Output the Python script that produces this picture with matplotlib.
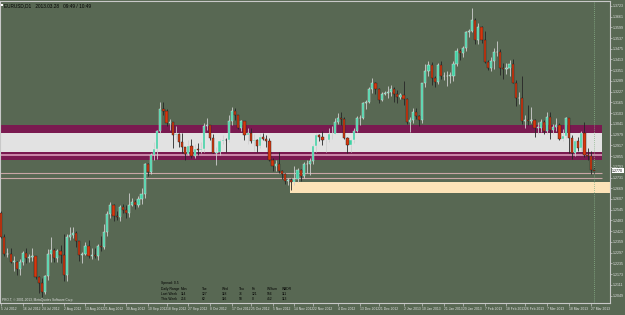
import matplotlib.pyplot as plt
import numpy as np
import pandas as pd

plt.rcParams['font.family'] = ['Liberation Sans', 'DejaVu Sans']

# daily bars EURUSD D1, 5 Jul 2012 .. 28 Mar 2013
dates = pd.bdate_range('2012-07-05', '2013-03-28')

opens = [1.2525, 1.2390, 1.2290, 1.2290, 1.2245, 1.2245, 1.2205, 1.2245, 1.2295, 1.2265,
         1.2270, 1.2280, 1.2155, 1.2120, 1.2070, 1.2160, 1.2290, 1.2315, 1.2265, 1.2305,
         1.2285, 1.2165, 1.2390, 1.2400, 1.2410, 1.2365, 1.2285, 1.2290, 1.2335, 1.2275,
         1.2285, 1.2275, 1.2335, 1.2330, 1.2415, 1.2520, 1.2570, 1.2510, 1.2505, 1.2560,
         1.2545, 1.2525, 1.2575, 1.2590, 1.2575, 1.2605, 1.2635, 1.2810, 1.2765, 1.2860,
         1.2895, 1.3000, 1.3125, 1.3115, 1.3045, 1.3050, 1.2975, 1.2980, 1.2935, 1.2905,
         1.2865, 1.2915, 1.2855, 1.2895, 1.2890, 1.2895, 1.3030, 1.3035, 1.2960, 1.2875,
         1.2880, 1.2940, 1.2950, 1.2945, 1.3055, 1.3115, 1.3090, 1.3020, 1.3055, 1.2975,
         1.2990, 1.2940, 1.2945, 1.2915, 1.2965, 1.2955, 1.2940, 1.2835, 1.2795, 1.2810,
         1.2770, 1.2750, 1.2710, 1.2715, 1.2705, 1.2725, 1.2775, 1.2740, 1.2810, 1.2810,
         1.2825, 1.2915, 1.2975, 1.2965, 1.2945, 1.2945, 1.2980, 1.2985, 1.3050, 1.3075,
         1.3070, 1.2960, 1.2920, 1.2945, 1.3000, 1.3075, 1.3075, 1.3160, 1.3165, 1.3240,
         1.3275, 1.3245, 1.3180, 1.3215, 1.3220, 1.3225, 1.3240, 1.3215, 1.3195, 1.3205,
         1.3185, 1.3050, 1.3065, 1.3110, 1.3085, 1.3065, 1.3275, 1.3345, 1.3380, 1.3305,
         1.3285, 1.3380, 1.3315, 1.3315, 1.3320, 1.3320, 1.3385, 1.3460, 1.3450, 1.3480,
         1.3570, 1.3580, 1.3640, 1.3525, 1.3600, 1.3525, 1.3400, 1.3365, 1.3405, 1.3455,
         1.3455, 1.3365, 1.3360, 1.3365, 1.3385, 1.3280, 1.3190, 1.3190, 1.3055, 1.3065,
         1.3055, 1.3065, 1.3020, 1.3020, 1.3050, 1.3000, 1.3080, 1.3005, 1.3025, 1.3035,
         1.2955, 1.2970, 1.3075, 1.2960, 1.2870, 1.2940, 1.2900, 1.2990, 1.2860, 1.2855,
         1.2775]
highs = [1.2536, 1.2405, 1.2325, 1.2325, 1.2275, 1.2250, 1.2260, 1.2305, 1.2325, 1.2290,
         1.2325, 1.2280, 1.2160, 1.2150, 1.2170, 1.2320, 1.2390, 1.2325, 1.2320, 1.2340,
         1.2405, 1.2405, 1.2445, 1.2443, 1.2420, 1.2365, 1.2300, 1.2360, 1.2370, 1.2325,
         1.2325, 1.2345, 1.2395, 1.2460, 1.2535, 1.2590, 1.2580, 1.2535, 1.2575, 1.2580,
         1.2570, 1.2640, 1.2610, 1.2600, 1.2625, 1.2670, 1.2815, 1.2815, 1.2875, 1.2935,
         1.3005, 1.3169, 1.3170, 1.3125, 1.3070, 1.3050, 1.3030, 1.2990, 1.2990, 1.2910,
         1.2945, 1.2955, 1.2925, 1.2930, 1.2935, 1.3045, 1.3075, 1.3035, 1.2985, 1.2910,
         1.2955, 1.2975, 1.2960, 1.3090, 1.3140, 1.3135, 1.3095, 1.3065, 1.3060, 1.3015,
         1.3015, 1.2985, 1.2955, 1.2990, 1.2990, 1.2975, 1.2960, 1.2845, 1.2830, 1.2880,
         1.2775, 1.2760, 1.2730, 1.2730, 1.2800, 1.2785, 1.2780, 1.2820, 1.2835, 1.2845,
         1.2925, 1.2990, 1.2985, 1.3000, 1.2955, 1.3015, 1.3030, 1.3075, 1.3105, 1.3110,
         1.3080, 1.2965, 1.2955, 1.3015, 1.3085, 1.3095, 1.3165, 1.3180, 1.3255, 1.3308,
         1.3285, 1.3250, 1.3225, 1.3230, 1.3260, 1.3265, 1.3255, 1.3235, 1.3220, 1.3290,
         1.3190, 1.3080, 1.3130, 1.3135, 1.3095, 1.3280, 1.3385, 1.3405, 1.3400, 1.3320,
         1.3390, 1.3405, 1.3340, 1.3345, 1.3340, 1.3405, 1.3480, 1.3475, 1.3490, 1.3580,
         1.3590, 1.3711, 1.3650, 1.3625, 1.3605, 1.3575, 1.3410, 1.3425, 1.3480, 1.3520,
         1.3475, 1.3395, 1.3390, 1.3410, 1.3415, 1.3295, 1.3225, 1.3320, 1.3090, 1.3150,
         1.3140, 1.3070, 1.3050, 1.3070, 1.3065, 1.3110, 1.3110, 1.3040, 1.3075, 1.3045,
         1.3010, 1.3080, 1.3075, 1.2975, 1.2955, 1.2965, 1.3000, 1.3050, 1.2900, 1.2885,
         1.2795]
lows = [1.2380, 1.2280, 1.2270, 1.2235, 1.2190, 1.2165, 1.2165, 1.2225, 1.2235, 1.2245,
        1.2250, 1.2145, 1.2065, 1.2042, 1.2060, 1.2140, 1.2245, 1.2245, 1.2245, 1.2235,
        1.2135, 1.2135, 1.2370, 1.2380, 1.2330, 1.2250, 1.2240, 1.2285, 1.2265, 1.2260,
        1.2265, 1.2255, 1.2305, 1.2320, 1.2395, 1.2495, 1.2480, 1.2485, 1.2480, 1.2525,
        1.2500, 1.2505, 1.2565, 1.2550, 1.2560, 1.2580, 1.2615, 1.2740, 1.2750, 1.2830,
        1.2840, 1.2990, 1.3090, 1.3030, 1.3005, 1.2900, 1.2955, 1.2905, 1.2875, 1.2835,
        1.2860, 1.2845, 1.2845, 1.2860, 1.2870, 1.2880, 1.3005, 1.2950, 1.2875, 1.2805,
        1.2860, 1.2925, 1.2880, 1.2935, 1.3035, 1.3065, 1.3010, 1.3000, 1.2950, 1.2925,
        1.2930, 1.2885, 1.2880, 1.2900, 1.2945, 1.2910, 1.2825, 1.2770, 1.2770, 1.2755,
        1.2725, 1.2695, 1.2685, 1.2661, 1.2690, 1.2705, 1.2710, 1.2730, 1.2760, 1.2745,
        1.2810, 1.2880, 1.2940, 1.2920, 1.2880, 1.2935, 1.2955, 1.2980, 1.3040, 1.3035,
        1.2955, 1.2875, 1.2880, 1.2930, 1.2995, 1.3035, 1.3070, 1.3125, 1.3160, 1.3220,
        1.3215, 1.3160, 1.3175, 1.3210, 1.3190, 1.3200, 1.3170, 1.3160, 1.3185, 1.3150,
        1.3040, 1.2995, 1.3045, 1.3070, 1.3030, 1.3045, 1.3255, 1.3320, 1.3265, 1.3255,
        1.3270, 1.3300, 1.3295, 1.3260, 1.3275, 1.3290, 1.3375, 1.3410, 1.3430, 1.3460,
        1.3545, 1.3570, 1.3500, 1.3505, 1.3510, 1.3390, 1.3350, 1.3345, 1.3360, 1.3435,
        1.3325, 1.3300, 1.3330, 1.3315, 1.3275, 1.3145, 1.3155, 1.3040, 1.3020, 1.3035,
        1.3045, 1.2965, 1.2985, 1.2995, 1.2980, 1.2985, 1.2955, 1.2980, 1.3000, 1.2945,
        1.2940, 1.2960, 1.2875, 1.2840, 1.2855, 1.2885, 1.2885, 1.2850, 1.2835, 1.2750,
        1.2750]
closes = [1.2390, 1.2290, 1.2290, 1.2245, 1.2245, 1.2205, 1.2245, 1.2295, 1.2265, 1.2270,
          1.2280, 1.2155, 1.2120, 1.2070, 1.2160, 1.2290, 1.2315, 1.2265, 1.2305, 1.2285,
          1.2165, 1.2390, 1.2400, 1.2410, 1.2365, 1.2285, 1.2290, 1.2335, 1.2275, 1.2285,
          1.2275, 1.2335, 1.2330, 1.2415, 1.2520, 1.2570, 1.2510, 1.2505, 1.2560, 1.2545,
          1.2525, 1.2575, 1.2590, 1.2575, 1.2605, 1.2635, 1.2810, 1.2765, 1.2860, 1.2895,
          1.3000, 1.3125, 1.3115, 1.3045, 1.3050, 1.2975, 1.2980, 1.2935, 1.2905, 1.2865,
          1.2915, 1.2855, 1.2895, 1.2890, 1.2895, 1.3030, 1.3035, 1.2960, 1.2875, 1.2880,
          1.2940, 1.2950, 1.2945, 1.3055, 1.3115, 1.3090, 1.3020, 1.3055, 1.2975, 1.2990,
          1.2940, 1.2945, 1.2915, 1.2965, 1.2955, 1.2940, 1.2835, 1.2795, 1.2810, 1.2770,
          1.2750, 1.2710, 1.2715, 1.2705, 1.2725, 1.2775, 1.2740, 1.2810, 1.2810, 1.2825,
          1.2915, 1.2975, 1.2965, 1.2945, 1.2945, 1.2980, 1.2985, 1.3050, 1.3075, 1.3070,
          1.2960, 1.2920, 1.2945, 1.3000, 1.3075, 1.3075, 1.3160, 1.3165, 1.3240, 1.3275,
          1.3245, 1.3180, 1.3215, 1.3220, 1.3225, 1.3240, 1.3215, 1.3195, 1.3205, 1.3185,
          1.3050, 1.3065, 1.3110, 1.3085, 1.3065, 1.3275, 1.3345, 1.3380, 1.3305, 1.3285,
          1.3380, 1.3315, 1.3315, 1.3320, 1.3320, 1.3385, 1.3460, 1.3450, 1.3480, 1.3570,
          1.3580, 1.3640, 1.3525, 1.3600, 1.3525, 1.3400, 1.3365, 1.3405, 1.3455, 1.3455,
          1.3365, 1.3360, 1.3365, 1.3385, 1.3280, 1.3190, 1.3190, 1.3055, 1.3065, 1.3055,
          1.3065, 1.3020, 1.3020, 1.3050, 1.3000, 1.3080, 1.3005, 1.3025, 1.3035, 1.2955,
          1.2970, 1.3075, 1.2960, 1.2870, 1.2940, 1.2900, 1.2990, 1.2860, 1.2855, 1.2775,
          1.2770]

# x-axis date labels and right-axis price labels
date_labels = ['5 Jul 2012', '16 Jul 2012', '24 Jul 2012', '2 Aug 2012', '13 Aug 2012',
               '21 Aug 2012', '30 Aug 2012', '10 Sep 2012', '18 Sep 2012', '27 Sep 2012',
               '8 Oct 2012', '17 Oct 2012', '25 Oct 2012', '5 Nov 2012', '14 Nov 2012',
               '22 Nov 2012', '4 Dec 2012', '13 Dec 2012', '21 Dec 2012', '2 Jan 2013',
               '10 Jan 2013', '21 Jan 2013', '29 Jan 2013', '7 Feb 2013', '18 Feb 2013',
               '26 Feb 2013', '7 Mar 2013', '18 Mar 2013', '27 Mar 2013']
price_ticks = [1.3723, 1.3661, 1.3599, 1.3537, 1.3475, 1.3413, 1.3351, 1.3289, 1.3227,
               1.3165, 1.3103, 1.3041, 1.2979, 1.2917, 1.2855, 1.2793, 1.2731, 1.2669,
               1.2607, 1.2545, 1.2483, 1.2421, 1.2359, 1.2297, 1.2235, 1.2173, 1.2111,
               1.2049]
bid_price = 1.2770

# user-drawn zones (price levels)
zone_purple_top = (1.2990, 1.3035)
zone_white = (1.2879, 1.2990)
zone_purple_bottom = (1.2833, 1.2879)
zone_pink_line = 1.2860
level_lines = [1.2760, 1.2731]
zone_beige = (1.2642, 1.2708)
beige_start = '2012-11-13'

# daily range table
table_cols = ['Mon', 'Tue', 'Wed', 'Thu', 'Fri', 'W/Sum', 'WADR']
last_week = [114, 127, 118, 76, 121, 556, 111]
this_week = [216, 62, 116, 58, 0, 452, 113]

BG = '#586853'
FG = '#c8c8c8'

fig = plt.figure(figsize=(6.25, 3.15), dpi=100, facecolor=BG)
ax = fig.add_axes([0.0, 12 / 315, 610 / 625, 302 / 315])
ax.set_facecolor(BG)

n = len(closes)
x = np.arange(n)
o = np.array(opens)
h = np.array(highs)
l = np.array(lows)
c = np.array(closes)
xr = n + 1.5  # right end of drawn objects

# zones
ax.fill_between([-1, xr], *zone_purple_top, color='#7a1a50', lw=0, zorder=1)
ax.fill_between([-1, xr], *zone_white, color='#e2e2e2', lw=0, zorder=1)
ax.fill_between([-1, xr], *zone_purple_bottom, color='#7a1a50', lw=0, zorder=1)
ax.hlines(zone_pink_line, -1, xr, color='#d89ab8', lw=1.2, zorder=1)
ax.hlines(level_lines, -1, xr, color='#c8a6a6', lw=0.8, zorder=1)
bx = dates.get_loc(pd.Timestamp(beige_start))
ax.fill_between([bx - 0.5, n + 10], *zone_beige, color='#fde3b8', lw=0, zorder=1)

# candles
bull = c >= o
wick_col = np.where(bull, '#d0d0d0', '#262626')
ax.vlines(x, l, h, colors=wick_col, lw=0.6, zorder=2)
body_lo = np.minimum(o, c)
body_h = np.maximum(np.abs(c - o), 0.0002)
ax.bar(x[bull], body_h[bull], bottom=body_lo[bull], width=0.7,
       color='#3ed2a4', edgecolor='#e8e8e8', lw=0.3, zorder=3)
ax.bar(x[~bull], body_h[~bull], bottom=body_lo[~bull], width=0.7,
       color='#d8360c', edgecolor='#202020', lw=0.3, zorder=3)

# current bar separator
ax.axvline(n - 1, color='#8cb48c', lw=0.6, ls=(0, (1, 1.5)), zorder=2)

ax.set_xlim(-0.4, 195.2)
ax.set_ylim(1.2006, 1.3751)

# axes styling
for s in ax.spines.values():
    s.set_color(FG)
    s.set_linewidth(0.8)
ax.yaxis.tick_right()
ax.set_yticks(price_ticks)
ax.set_yticklabels([f'{p:.4f}' for p in price_ticks])
date_pos = [dates.get_loc(pd.Timestamp(d)) for d in date_labels]
ax.set_xticks(date_pos)
ax.set_xticklabels(date_labels, ha='left')
ax.tick_params(axis='y', colors=FG, labelsize=2.6, length=1.5, width=0.5, pad=0.8)
ax.tick_params(axis='x', colors=FG, labelsize=2.4, length=2, width=0.5, pad=1.2)
for t in ax.get_xticklabels() + ax.get_yticklabels():
    t.set_color('#e0e0e0')

# bid price box on the axis
ax.annotate(f'{bid_price:.4f}', xy=(1.0, bid_price), xycoords=('axes fraction', 'data'),
            xytext=(1.6, 0), textcoords='offset points', ha='left', va='center',
            fontsize=2.6, color='black', annotation_clip=False,
            bbox=dict(boxstyle='square,pad=0.1', fc='white', ec='none'))

# header and footer texts
fig.patches.append(plt.Rectangle((1 / 625, 1 - 6 / 315), 2 / 625, 2 / 315,
                                 transform=fig.transFigure, fc='white', ec='none'))
fig.text(4 / 625, 1 - 6 / 315, 'EURUSD,D1   2013.03.28   09:49 / 10:49',
         fontsize=3.4, color='black', va='center')
fig.text(2 / 625, 1 - 300 / 315, 'PRO.T, \u00a9 2001-2013, MetaQuotes Software Corp.',
         fontsize=2.3, color='#e0e0e0', va='center')

# daily range table
tx0 = 161
fig.text(tx0 / 625, 1 - 283 / 315, 'Spread: 0.5', fontsize=2.4, color='black', va='center')
col_x = [181, 202, 222, 239, 252, 267, 282]
rows = [('Daily Range', table_cols, 289), ('Last Week', last_week, 294),
        ('This Week', this_week, 299)]
for name, vals, yy in rows:
    fig.text(tx0 / 625, 1 - yy / 315, name, fontsize=2.4, color='black', va='center')
    for cx, v in zip(col_x, vals):
        fig.text(cx / 625, 1 - yy / 315, str(v), fontsize=2.4, color='black', va='center')

fig.savefig('out.png', dpi=100, facecolor=BG)
